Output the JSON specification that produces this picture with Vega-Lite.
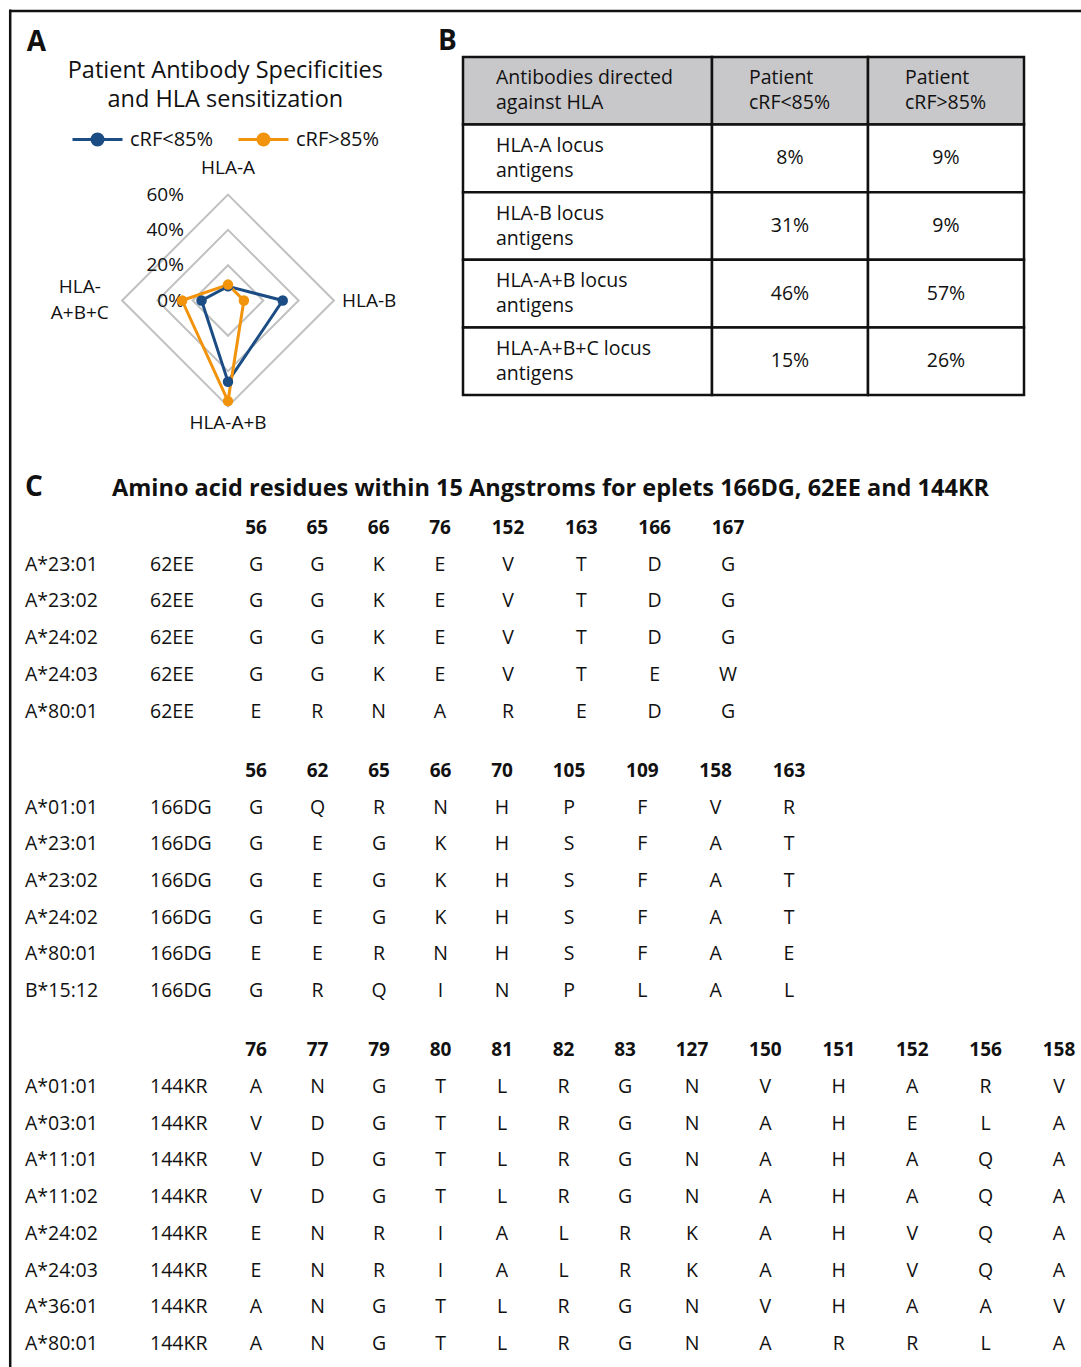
{
"$schema": "https://vega.github.io/schema/vega-lite/v6.json",
"width": 1081, "height": 1367,
"autosize": {"type": "fit", "contains": "padding"},
"padding": 0,
"background": "#ffffff",
"config": {"view": {"stroke": null}, "text": {"font": "Open Sans", "fontSize": 19.5, "fill": "#111111"}},
"resolve": {"scale": {"x": "independent", "y": "independent"}},
"datasets": {
 "radar": [
  {"series": "cRF<85%", "axis": "HLA-A", "value": 0.08},
  {"series": "cRF<85%", "axis": "HLA-B", "value": 0.31},
  {"series": "cRF<85%", "axis": "HLA-A+B", "value": 0.46},
  {"series": "cRF<85%", "axis": "HLA-A+B+C", "value": 0.15},
  {"series": "cRF>85%", "axis": "HLA-A", "value": 0.09},
  {"series": "cRF>85%", "axis": "HLA-B", "value": 0.09},
  {"series": "cRF>85%", "axis": "HLA-A+B", "value": 0.57},
  {"series": "cRF>85%", "axis": "HLA-A+B+C", "value": 0.26}
 ],
 "grid": [
  {"level": 0.2, "axis": "HLA-A"}, {"level": 0.2, "axis": "HLA-B"}, {"level": 0.2, "axis": "HLA-A+B"}, {"level": 0.2, "axis": "HLA-A+B+C"},
  {"level": 0.4, "axis": "HLA-A"}, {"level": 0.4, "axis": "HLA-B"}, {"level": 0.4, "axis": "HLA-A+B"}, {"level": 0.4, "axis": "HLA-A+B+C"},
  {"level": 0.6, "axis": "HLA-A"}, {"level": 0.6, "axis": "HLA-B"}, {"level": 0.6, "axis": "HLA-A+B"}, {"level": 0.6, "axis": "HLA-A+B+C"}
 ],
 "ticks": [{"level": 0}, {"level": 0.2}, {"level": 0.4}, {"level": 0.6}],
 "axes": [
  {"axis": "HLA-A", "label": "HLA-A"},
  {"axis": "HLA-B", "label": "HLA-B"},
  {"axis": "HLA-A+B", "label": "HLA-A+B"},
  {"axis": "HLA-A+B+C", "label": "HLA-\nA+B+C"}
 ],
 "tb": [
  {"row": "header", "col": "label", "txt": "Antibodies directed\nagainst HLA"},
  {"row": "header", "col": "cRF<85%", "txt": "Patient\ncRF<85%"},
  {"row": "header", "col": "cRF>85%", "txt": "Patient\ncRF>85%"},
  {"row": "HLA-A", "col": "label", "txt": "HLA-A locus\nantigens"},
  {"row": "HLA-A", "col": "cRF<85%", "txt": "8%"},
  {"row": "HLA-A", "col": "cRF>85%", "txt": "9%"},
  {"row": "HLA-B", "col": "label", "txt": "HLA-B locus\nantigens"},
  {"row": "HLA-B", "col": "cRF<85%", "txt": "31%"},
  {"row": "HLA-B", "col": "cRF>85%", "txt": "9%"},
  {"row": "HLA-A+B", "col": "label", "txt": "HLA-A+B locus\nantigens"},
  {"row": "HLA-A+B", "col": "cRF<85%", "txt": "46%"},
  {"row": "HLA-A+B", "col": "cRF>85%", "txt": "57%"},
  {"row": "HLA-A+B+C", "col": "label", "txt": "HLA-A+B+C locus\nantigens"},
  {"row": "HLA-A+B+C", "col": "cRF<85%", "txt": "15%"},
  {"row": "HLA-A+B+C", "col": "cRF>85%", "txt": "26%"}
 ],
 "c1": [
  {"allele": "A*23:01", "eplet": "62EE", "56": "G", "65": "G", "66": "K", "76": "E", "152": "V", "163": "T", "166": "D", "167": "G"},
  {"allele": "A*23:02", "eplet": "62EE", "56": "G", "65": "G", "66": "K", "76": "E", "152": "V", "163": "T", "166": "D", "167": "G"},
  {"allele": "A*24:02", "eplet": "62EE", "56": "G", "65": "G", "66": "K", "76": "E", "152": "V", "163": "T", "166": "D", "167": "G"},
  {"allele": "A*24:03", "eplet": "62EE", "56": "G", "65": "G", "66": "K", "76": "E", "152": "V", "163": "T", "166": "E", "167": "W"},
  {"allele": "A*80:01", "eplet": "62EE", "56": "E", "65": "R", "66": "N", "76": "A", "152": "R", "163": "E", "166": "D", "167": "G"}
 ],
 "c2": [
  {"allele": "A*01:01", "eplet": "166DG", "56": "G", "62": "Q", "65": "R", "66": "N", "70": "H", "105": "P", "109": "F", "158": "V", "163": "R"},
  {"allele": "A*23:01", "eplet": "166DG", "56": "G", "62": "E", "65": "G", "66": "K", "70": "H", "105": "S", "109": "F", "158": "A", "163": "T"},
  {"allele": "A*23:02", "eplet": "166DG", "56": "G", "62": "E", "65": "G", "66": "K", "70": "H", "105": "S", "109": "F", "158": "A", "163": "T"},
  {"allele": "A*24:02", "eplet": "166DG", "56": "G", "62": "E", "65": "G", "66": "K", "70": "H", "105": "S", "109": "F", "158": "A", "163": "T"},
  {"allele": "A*80:01", "eplet": "166DG", "56": "E", "62": "E", "65": "R", "66": "N", "70": "H", "105": "S", "109": "F", "158": "A", "163": "E"},
  {"allele": "B*15:12", "eplet": "166DG", "56": "G", "62": "R", "65": "Q", "66": "I", "70": "N", "105": "P", "109": "L", "158": "A", "163": "L"}
 ],
 "c3": [
  {"allele": "A*01:01", "eplet": "144KR", "76": "A", "77": "N", "79": "G", "80": "T", "81": "L", "82": "R", "83": "G", "127": "N", "150": "V", "151": "H", "152": "A", "156": "R", "158": "V"},
  {"allele": "A*03:01", "eplet": "144KR", "76": "V", "77": "D", "79": "G", "80": "T", "81": "L", "82": "R", "83": "G", "127": "N", "150": "A", "151": "H", "152": "E", "156": "L", "158": "A"},
  {"allele": "A*11:01", "eplet": "144KR", "76": "V", "77": "D", "79": "G", "80": "T", "81": "L", "82": "R", "83": "G", "127": "N", "150": "A", "151": "H", "152": "A", "156": "Q", "158": "A"},
  {"allele": "A*11:02", "eplet": "144KR", "76": "V", "77": "D", "79": "G", "80": "T", "81": "L", "82": "R", "83": "G", "127": "N", "150": "A", "151": "H", "152": "A", "156": "Q", "158": "A"},
  {"allele": "A*24:02", "eplet": "144KR", "76": "E", "77": "N", "79": "R", "80": "I", "81": "A", "82": "L", "83": "R", "127": "K", "150": "A", "151": "H", "152": "V", "156": "Q", "158": "A"},
  {"allele": "A*24:03", "eplet": "144KR", "76": "E", "77": "N", "79": "R", "80": "I", "81": "A", "82": "L", "83": "R", "127": "K", "150": "A", "151": "H", "152": "V", "156": "Q", "158": "A"},
  {"allele": "A*36:01", "eplet": "144KR", "76": "A", "77": "N", "79": "G", "80": "T", "81": "L", "82": "R", "83": "G", "127": "N", "150": "V", "151": "H", "152": "A", "156": "A", "158": "V"},
  {"allele": "A*80:01", "eplet": "144KR", "76": "A", "77": "N", "79": "G", "80": "T", "81": "L", "82": "R", "83": "G", "127": "N", "150": "A", "151": "R", "152": "R", "156": "L", "158": "A"}
 ]
},
"layer": [
 {
  "data": {"values": [{"f": 0}]},
  "mark": {"type": "point", "opacity": 0},
  "encoding": {
   "x": {"field": "f", "type": "quantitative", "scale": {"domain": [0, 1], "range": [9, 1081], "nice": false, "zero": false}, "axis": {"orient": "top", "offset": -10.5, "domain": true, "domainColor": "#111111", "domainWidth": 2.5, "ticks": false, "labels": false, "grid": false, "title": null}},
   "y": {"field": "f", "type": "quantitative", "scale": {"domain": [0, 1], "range": [1367, 9], "nice": false, "zero": false}, "axis": {"orient": "left", "offset": -9.7, "domain": true, "domainColor": "#111111", "domainWidth": 2.5, "ticks": false, "labels": false, "grid": false, "title": null}}
  }
 },
 {
  "data": {"name": "grid"},
  "transform": [
   {"calculate": "indexof(['HLA-A','HLA-B','HLA-A+B','HLA-A+B+C'], datum.axis)", "as": "k"},
   {"calculate": "datum.level * sin(datum.k * PI / 2)", "as": "px"},
   {"calculate": "datum.level * cos(datum.k * PI / 2)", "as": "py"}
  ],
  "mark": {"type": "line", "interpolate": "linear-closed", "stroke": "#c0c0c0", "strokeWidth": 2},
  "encoding": {
   "x": {"field": "px", "type": "quantitative", "scale": {"domain": [-1, 1], "range": [51.5, 404.5], "nice": false, "zero": false}, "axis": null},
   "y": {"field": "py", "type": "quantitative", "scale": {"domain": [-1, 1], "range": [477, 124], "nice": false, "zero": false}, "axis": null},
   "detail": {"field": "level", "type": "nominal"},
   "order": {"field": "k", "type": "quantitative"}
  }
 },
 {
  "data": {"name": "ticks"},
  "mark": {"type": "text", "align": "right", "baseline": "middle", "fontSize": 19},
  "encoding": {
   "x": {"datum": -0.25, "type": "quantitative", "scale": {"domain": [-1, 1], "range": [51.5, 404.5], "nice": false, "zero": false}, "axis": null},
   "y": {"field": "level", "type": "quantitative", "scale": {"domain": [-1, 1], "range": [477, 124], "nice": false, "zero": false}, "axis": null},
   "text": {"field": "level", "type": "quantitative", "format": ".0%"}
  }
 },
 {
  "data": {"name": "axes"},
  "transform": [
   {"calculate": "indexof(['HLA-A','HLA-B','HLA-A+B','HLA-A+B+C'], datum.axis)", "as": "k"},
   {"calculate": "[0.75, 0.80, 0.695, 0.84][datum.k]", "as": "lr"},
   {"calculate": "datum.lr * sin(datum.k * PI / 2)", "as": "px"},
   {"calculate": "datum.lr * cos(datum.k * PI / 2) + [0, 0, 0, 0.0737][datum.k]", "as": "py"}
  ],
  "mark": {"type": "text", "align": "center", "baseline": "middle", "lineBreak": "\n", "lineHeight": 26, "fontSize": 19},
  "encoding": {
   "x": {"field": "px", "type": "quantitative", "scale": {"domain": [-1, 1], "range": [51.5, 404.5], "nice": false, "zero": false}, "axis": null},
   "y": {"field": "py", "type": "quantitative", "scale": {"domain": [-1, 1], "range": [477, 124], "nice": false, "zero": false}, "axis": null},
   "text": {"field": "label", "type": "nominal"}
  }
 },
 {
  "data": {"name": "radar"},
  "transform": [
   {"calculate": "indexof(['HLA-A','HLA-B','HLA-A+B','HLA-A+B+C'], datum.axis)", "as": "k"},
   {"calculate": "datum.value * sin(datum.k * PI / 2)", "as": "px"},
   {"calculate": "datum.value * cos(datum.k * PI / 2)", "as": "py"}
  ],
  "mark": {"type": "line", "interpolate": "linear-closed", "strokeWidth": 3},
  "encoding": {
   "x": {"field": "px", "type": "quantitative", "scale": {"domain": [-1, 1], "range": [51.5, 404.5], "nice": false, "zero": false}, "axis": null},
   "y": {"field": "py", "type": "quantitative", "scale": {"domain": [-1, 1], "range": [477, 124], "nice": false, "zero": false}, "axis": null},
   "order": {"field": "k", "type": "quantitative"},
   "color": {"field": "series", "type": "nominal", "scale": {"domain": ["cRF<85%", "cRF>85%"], "range": ["#1b4c84", "#f2930c"]},
    "legend": {"orient": "none", "legendX": 71, "legendY": 113, "direction": "horizontal", "title": null,
     "symbolType": "M-1,0L1,0M0.22,0A0.22,0.22,0,1,1,-0.22,0A0.22,0.22,0,1,1,0.22,0Z",
     "symbolSize": 2500, "symbolStrokeWidth": 3, "labelFontSize": 20, "labelFont": "Open Sans", "labelColor": "#111111", "labelOffset": 6, "columnPadding": 18,
     "encode": {"symbols": {"update": {"fill": {"scale": "color", "field": "value"}, "stroke": {"scale": "color", "field": "value"}, "opacity": {"value": 1}}}}}}
  }
 },
 {
  "data": {"name": "radar"},
  "transform": [
   {"calculate": "indexof(['HLA-A','HLA-B','HLA-A+B','HLA-A+B+C'], datum.axis)", "as": "k"},
   {"calculate": "datum.value * sin(datum.k * PI / 2)", "as": "px"},
   {"calculate": "datum.value * cos(datum.k * PI / 2)", "as": "py"}
  ],
  "mark": {"type": "point", "filled": true, "size": 110, "opacity": 1},
  "encoding": {
   "x": {"field": "px", "type": "quantitative", "scale": {"domain": [-1, 1], "range": [51.5, 404.5], "nice": false, "zero": false}, "axis": null},
   "y": {"field": "py", "type": "quantitative", "scale": {"domain": [-1, 1], "range": [477, 124], "nice": false, "zero": false}, "axis": null},
   "color": {"field": "series", "type": "nominal"}
  }
 },
 {
  "data": {"values": [{"t": "Patient Antibody Specificities\nand HLA sensitization"}]},
  "mark": {"type": "text", "align": "center", "baseline": "middle", "lineBreak": "\n", "lineHeight": 28.5, "dy": -14.5, "fontSize": 23.5},
  "encoding": {
   "x": {"datum": -0.015, "type": "quantitative", "scale": {"domain": [-1, 1], "range": [51.5, 404.5], "nice": false, "zero": false}, "axis": null},
   "y": {"datum": 1.218, "type": "quantitative", "scale": {"domain": [-1, 1], "range": [477, 124], "nice": false, "zero": false}, "axis": null},
   "text": {"field": "t", "type": "nominal"}
  }
 },
 {
  "data": {"values": [{"t": "A"}]},
  "mark": {"type": "text", "align": "center", "baseline": "middle", "fontSize": 28, "fontWeight": "bold"},
  "encoding": {
   "x": {"datum": -1.085, "type": "quantitative", "scale": {"domain": [-1, 1], "range": [51.5, 404.5], "nice": false, "zero": false}, "axis": null},
   "y": {"datum": 1.46, "type": "quantitative", "scale": {"domain": [-1, 1], "range": [477, 124], "nice": false, "zero": false}, "axis": null},
   "text": {"field": "t", "type": "nominal"}
  }
 },
 {
  "data": {"name": "tb"},
  "transform": [{"filter": "datum.col === 'label'"}],
  "mark": {"type": "rect", "stroke": "#111111", "strokeWidth": 2.5},
  "encoding": {
   "x": {"field": "col", "type": "nominal", "scale": {"type": "band", "domain": ["label"], "range": [463, 712], "paddingInner": 0, "paddingOuter": 0}, "axis": null},
   "y": {"field": "row", "type": "nominal", "scale": {"type": "band", "domain": ["header", "HLA-A", "HLA-B", "HLA-A+B", "HLA-A+B+C"], "range": [57, 395], "paddingInner": 0, "paddingOuter": 0}, "axis": null},
   "fill": {"condition": {"test": "datum.row === 'header'", "value": "#c8c7c9"}, "value": "#ffffff"}
  }
 },
 {
  "data": {"name": "tb"},
  "transform": [{"filter": "datum.col !== 'label'"}],
  "mark": {"type": "rect", "stroke": "#111111", "strokeWidth": 2.5},
  "encoding": {
   "x": {"field": "col", "type": "nominal", "scale": {"type": "band", "domain": ["cRF<85%", "cRF>85%"], "range": [712, 1024], "paddingInner": 0, "paddingOuter": 0}, "axis": null},
   "y": {"field": "row", "type": "nominal", "scale": {"type": "band", "domain": ["header", "HLA-A", "HLA-B", "HLA-A+B", "HLA-A+B+C"], "range": [57, 395], "paddingInner": 0, "paddingOuter": 0}, "axis": null},
   "fill": {"condition": {"test": "datum.row === 'header'", "value": "#c8c7c9"}, "value": "#ffffff"}
  }
 },
 {
  "data": {"name": "tb"},
  "transform": [{"filter": "datum.col === 'label'"}],
  "mark": {"type": "text", "align": "left", "baseline": "middle", "dx": 33, "dy": -12.5, "lineBreak": "\n", "lineHeight": 25},
  "encoding": {
   "x": {"field": "col", "type": "nominal", "bandPosition": 0, "scale": {"type": "band", "domain": ["label"], "range": [463, 712], "paddingInner": 0, "paddingOuter": 0}, "axis": null},
   "y": {"field": "row", "type": "nominal", "scale": {"type": "band", "domain": ["header", "HLA-A", "HLA-B", "HLA-A+B", "HLA-A+B+C"], "range": [57, 395], "paddingInner": 0, "paddingOuter": 0}, "axis": null},
   "text": {"field": "txt", "type": "nominal"}
  }
 },
 {
  "data": {"name": "tb"},
  "transform": [{"filter": "datum.col !== 'label' && datum.row === 'header'"}],
  "mark": {"type": "text", "align": "left", "baseline": "middle", "dx": 37, "dy": -12.5, "lineBreak": "\n", "lineHeight": 25},
  "encoding": {
   "x": {"field": "col", "type": "nominal", "bandPosition": 0, "scale": {"type": "band", "domain": ["cRF<85%", "cRF>85%"], "range": [712, 1024], "paddingInner": 0, "paddingOuter": 0}, "axis": null},
   "y": {"field": "row", "type": "nominal", "scale": {"type": "band", "domain": ["header", "HLA-A", "HLA-B", "HLA-A+B", "HLA-A+B+C"], "range": [57, 395], "paddingInner": 0, "paddingOuter": 0}, "axis": null},
   "text": {"field": "txt", "type": "nominal"}
  }
 },
 {
  "data": {"name": "tb"},
  "transform": [{"filter": "datum.col !== 'label' && datum.row !== 'header'"}],
  "mark": {"type": "text", "align": "center", "baseline": "middle"},
  "encoding": {
   "x": {"field": "col", "type": "nominal", "scale": {"type": "band", "domain": ["cRF<85%", "cRF>85%"], "range": [712, 1024], "paddingInner": 0, "paddingOuter": 0}, "axis": null},
   "y": {"field": "row", "type": "nominal", "scale": {"type": "band", "domain": ["header", "HLA-A", "HLA-B", "HLA-A+B", "HLA-A+B+C"], "range": [57, 395], "paddingInner": 0, "paddingOuter": 0}, "axis": null},
   "text": {"field": "txt", "type": "nominal"}
  }
 },
 {
  "data": {"values": [{"t": "B"}]},
  "mark": {"type": "text", "align": "left", "baseline": "middle", "dx": -25, "dy": -15, "fontSize": 28, "fontWeight": "bold"},
  "encoding": {
   "x": {"datum": "label", "type": "nominal", "bandPosition": 0, "scale": {"type": "band", "domain": ["label"], "range": [463, 712], "paddingInner": 0, "paddingOuter": 0}, "axis": null},
   "y": {"datum": "header", "type": "nominal", "bandPosition": 0, "scale": {"type": "band", "domain": ["header", "HLA-A", "HLA-B", "HLA-A+B", "HLA-A+B+C"], "range": [57, 395], "paddingInner": 0, "paddingOuter": 0}, "axis": null},
   "text": {"field": "t", "type": "nominal"}
  }
 },
 {
  "data": {"name": "c1"},
  "transform": [{"fold": ["allele", "eplet"], "as": ["col", "txt"]}],
  "mark": {"type": "text", "align": "left", "baseline": "middle"},
  "encoding": {
   "x": {"field": "col", "type": "nominal", "scale": {"type": "point", "domain": ["allele", "eplet"], "range": [25, 150], "padding": 0}, "axis": null},
   "y": {"field": "allele", "type": "nominal", "scale": {"type": "point", "domain": ["title", "header", "A*23:01", "A*23:02", "A*24:02", "A*24:03", "A*80:01"], "range": [491.3, 711.5], "padding": 0}, "axis": null},
   "text": {"field": "txt", "type": "nominal"}
  }
 },
 {
  "data": {"values": [{"t": "C"}]},
  "mark": {"type": "text", "align": "left", "baseline": "middle", "dy": -3, "fontSize": 28, "fontWeight": "bold"},
  "encoding": {
   "x": {"datum": "allele", "type": "nominal", "scale": {"type": "point", "domain": ["allele", "eplet"], "range": [25, 150], "padding": 0}, "axis": null},
   "y": {"datum": "title", "type": "nominal", "scale": {"type": "point", "domain": ["title", "header", "A*23:01", "A*23:02", "A*24:02", "A*24:03", "A*80:01"], "range": [491.3, 711.5], "padding": 0}, "axis": null},
   "text": {"field": "t", "type": "nominal"}
  }
 },
 {
  "data": {"values": [{"t": "Amino acid residues within 15 Angstroms for eplets 166DG, 62EE and 144KR"}]},
  "mark": {"type": "text", "align": "left", "baseline": "middle", "dx": -38, "dy": -2, "fontSize": 23.5, "fontWeight": "bold"},
  "encoding": {
   "x": {"datum": "eplet", "type": "nominal", "scale": {"type": "point", "domain": ["allele", "eplet"], "range": [25, 150], "padding": 0}, "axis": null},
   "y": {"datum": "title", "type": "nominal", "scale": {"type": "point", "domain": ["title", "header", "A*23:01", "A*23:02", "A*24:02", "A*24:03", "A*80:01"], "range": [491.3, 711.5], "padding": 0}, "axis": null},
   "text": {"field": "t", "type": "nominal"}
  }
 },
 {
  "data": {"name": "c1"},
  "transform": [{"fold": ["56", "65", "66", "76"], "as": ["pos", "aa"]}],
  "mark": {"type": "text", "align": "center", "baseline": "middle"},
  "encoding": {
   "x": {"field": "pos", "type": "nominal", "scale": {"type": "point", "domain": ["56", "65", "66", "76"], "range": [256, 440], "padding": 0}, "axis": null},
   "y": {"field": "allele", "type": "nominal", "scale": {"type": "point", "domain": ["title", "header", "A*23:01", "A*23:02", "A*24:02", "A*24:03", "A*80:01"], "range": [491.3, 711.5], "padding": 0}, "axis": null},
   "text": {"field": "aa", "type": "nominal"}
  }
 },
 {
  "data": {"name": "c1"},
  "transform": [{"fold": ["56", "65", "66", "76"], "as": ["pos", "aa"]}, {"aggregate": [{"op": "count", "as": "n"}], "groupby": ["pos"]}],
  "mark": {"type": "text", "align": "center", "baseline": "middle", "fontSize": 19, "fontWeight": "bold"},
  "encoding": {
   "x": {"field": "pos", "type": "nominal", "scale": {"type": "point", "domain": ["56", "65", "66", "76"], "range": [256, 440], "padding": 0}, "axis": null},
   "y": {"datum": "header", "type": "nominal", "scale": {"type": "point", "domain": ["title", "header", "A*23:01", "A*23:02", "A*24:02", "A*24:03", "A*80:01"], "range": [491.3, 711.5], "padding": 0}, "axis": null},
   "text": {"field": "pos", "type": "nominal"}
  }
 },
 {
  "data": {"name": "c1"},
  "transform": [{"fold": ["152", "163", "166", "167"], "as": ["pos", "aa"]}],
  "mark": {"type": "text", "align": "center", "baseline": "middle"},
  "encoding": {
   "x": {"field": "pos", "type": "nominal", "scale": {"type": "point", "domain": ["152", "163", "166", "167"], "range": [508, 728], "padding": 0}, "axis": null},
   "y": {"field": "allele", "type": "nominal", "scale": {"type": "point", "domain": ["title", "header", "A*23:01", "A*23:02", "A*24:02", "A*24:03", "A*80:01"], "range": [491.3, 711.5], "padding": 0}, "axis": null},
   "text": {"field": "aa", "type": "nominal"}
  }
 },
 {
  "data": {"name": "c1"},
  "transform": [{"fold": ["152", "163", "166", "167"], "as": ["pos", "aa"]}, {"aggregate": [{"op": "count", "as": "n"}], "groupby": ["pos"]}],
  "mark": {"type": "text", "align": "center", "baseline": "middle", "fontSize": 19, "fontWeight": "bold"},
  "encoding": {
   "x": {"field": "pos", "type": "nominal", "scale": {"type": "point", "domain": ["152", "163", "166", "167"], "range": [508, 728], "padding": 0}, "axis": null},
   "y": {"datum": "header", "type": "nominal", "scale": {"type": "point", "domain": ["title", "header", "A*23:01", "A*23:02", "A*24:02", "A*24:03", "A*80:01"], "range": [491.3, 711.5], "padding": 0}, "axis": null},
   "text": {"field": "pos", "type": "nominal"}
  }
 },
 {
  "data": {"name": "c2"},
  "transform": [{"fold": ["allele", "eplet"], "as": ["col", "txt"]}],
  "mark": {"type": "text", "align": "left", "baseline": "middle"},
  "encoding": {
   "x": {"field": "col", "type": "nominal", "scale": {"type": "point", "domain": ["allele", "eplet"], "range": [25, 150], "padding": 0}, "axis": null},
   "y": {"field": "allele", "type": "nominal", "scale": {"type": "point", "domain": ["header", "A*01:01", "A*23:01", "A*23:02", "A*24:02", "A*80:01", "B*15:12"], "range": [771, 991], "padding": 0}, "axis": null},
   "text": {"field": "txt", "type": "nominal"}
  }
 },
 {
  "data": {"name": "c2"},
  "transform": [{"fold": ["56", "62", "65", "66", "70"], "as": ["pos", "aa"]}],
  "mark": {"type": "text", "align": "center", "baseline": "middle"},
  "encoding": {
   "x": {"field": "pos", "type": "nominal", "scale": {"type": "point", "domain": ["56", "62", "65", "66", "70"], "range": [256, 502], "padding": 0}, "axis": null},
   "y": {"field": "allele", "type": "nominal", "scale": {"type": "point", "domain": ["header", "A*01:01", "A*23:01", "A*23:02", "A*24:02", "A*80:01", "B*15:12"], "range": [771, 991], "padding": 0}, "axis": null},
   "text": {"field": "aa", "type": "nominal"}
  }
 },
 {
  "data": {"name": "c2"},
  "transform": [{"fold": ["56", "62", "65", "66", "70"], "as": ["pos", "aa"]}, {"aggregate": [{"op": "count", "as": "n"}], "groupby": ["pos"]}],
  "mark": {"type": "text", "align": "center", "baseline": "middle", "fontSize": 19, "fontWeight": "bold"},
  "encoding": {
   "x": {"field": "pos", "type": "nominal", "scale": {"type": "point", "domain": ["56", "62", "65", "66", "70"], "range": [256, 502], "padding": 0}, "axis": null},
   "y": {"datum": "header", "type": "nominal", "scale": {"type": "point", "domain": ["header", "A*01:01", "A*23:01", "A*23:02", "A*24:02", "A*80:01", "B*15:12"], "range": [771, 991], "padding": 0}, "axis": null},
   "text": {"field": "pos", "type": "nominal"}
  }
 },
 {
  "data": {"name": "c2"},
  "transform": [{"fold": ["105", "109", "158", "163"], "as": ["pos", "aa"]}],
  "mark": {"type": "text", "align": "center", "baseline": "middle"},
  "encoding": {
   "x": {"field": "pos", "type": "nominal", "scale": {"type": "point", "domain": ["105", "109", "158", "163"], "range": [569, 789], "padding": 0}, "axis": null},
   "y": {"field": "allele", "type": "nominal", "scale": {"type": "point", "domain": ["header", "A*01:01", "A*23:01", "A*23:02", "A*24:02", "A*80:01", "B*15:12"], "range": [771, 991], "padding": 0}, "axis": null},
   "text": {"field": "aa", "type": "nominal"}
  }
 },
 {
  "data": {"name": "c2"},
  "transform": [{"fold": ["105", "109", "158", "163"], "as": ["pos", "aa"]}, {"aggregate": [{"op": "count", "as": "n"}], "groupby": ["pos"]}],
  "mark": {"type": "text", "align": "center", "baseline": "middle", "fontSize": 19, "fontWeight": "bold"},
  "encoding": {
   "x": {"field": "pos", "type": "nominal", "scale": {"type": "point", "domain": ["105", "109", "158", "163"], "range": [569, 789], "padding": 0}, "axis": null},
   "y": {"datum": "header", "type": "nominal", "scale": {"type": "point", "domain": ["header", "A*01:01", "A*23:01", "A*23:02", "A*24:02", "A*80:01", "B*15:12"], "range": [771, 991], "padding": 0}, "axis": null},
   "text": {"field": "pos", "type": "nominal"}
  }
 },
 {
  "data": {"name": "c3"},
  "transform": [{"fold": ["allele", "eplet"], "as": ["col", "txt"]}],
  "mark": {"type": "text", "align": "left", "baseline": "middle"},
  "encoding": {
   "x": {"field": "col", "type": "nominal", "scale": {"type": "point", "domain": ["allele", "eplet"], "range": [25, 150], "padding": 0}, "axis": null},
   "y": {"field": "allele", "type": "nominal", "scale": {"type": "point", "domain": ["header", "A*01:01", "A*03:01", "A*11:01", "A*11:02", "A*24:02", "A*24:03", "A*36:01", "A*80:01"], "range": [1050, 1344], "padding": 0}, "axis": null},
   "text": {"field": "txt", "type": "nominal"}
  }
 },
 {
  "data": {"name": "c3"},
  "transform": [{"fold": ["76", "77", "79", "80", "81", "82", "83"], "as": ["pos", "aa"]}],
  "mark": {"type": "text", "align": "center", "baseline": "middle"},
  "encoding": {
   "x": {"field": "pos", "type": "nominal", "scale": {"type": "point", "domain": ["76", "77", "79", "80", "81", "82", "83"], "range": [256, 625], "padding": 0}, "axis": null},
   "y": {"field": "allele", "type": "nominal", "scale": {"type": "point", "domain": ["header", "A*01:01", "A*03:01", "A*11:01", "A*11:02", "A*24:02", "A*24:03", "A*36:01", "A*80:01"], "range": [1050, 1344], "padding": 0}, "axis": null},
   "text": {"field": "aa", "type": "nominal"}
  }
 },
 {
  "data": {"name": "c3"},
  "transform": [{"fold": ["76", "77", "79", "80", "81", "82", "83"], "as": ["pos", "aa"]}, {"aggregate": [{"op": "count", "as": "n"}], "groupby": ["pos"]}],
  "mark": {"type": "text", "align": "center", "baseline": "middle", "fontSize": 19, "fontWeight": "bold"},
  "encoding": {
   "x": {"field": "pos", "type": "nominal", "scale": {"type": "point", "domain": ["76", "77", "79", "80", "81", "82", "83"], "range": [256, 625], "padding": 0}, "axis": null},
   "y": {"datum": "header", "type": "nominal", "scale": {"type": "point", "domain": ["header", "A*01:01", "A*03:01", "A*11:01", "A*11:02", "A*24:02", "A*24:03", "A*36:01", "A*80:01"], "range": [1050, 1344], "padding": 0}, "axis": null},
   "text": {"field": "pos", "type": "nominal"}
  }
 },
 {
  "data": {"name": "c3"},
  "transform": [{"fold": ["127", "150", "151", "152", "156", "158"], "as": ["pos", "aa"]}],
  "mark": {"type": "text", "align": "center", "baseline": "middle"},
  "encoding": {
   "x": {"field": "pos", "type": "nominal", "scale": {"type": "point", "domain": ["127", "150", "151", "152", "156", "158"], "range": [692, 1059], "padding": 0}, "axis": null},
   "y": {"field": "allele", "type": "nominal", "scale": {"type": "point", "domain": ["header", "A*01:01", "A*03:01", "A*11:01", "A*11:02", "A*24:02", "A*24:03", "A*36:01", "A*80:01"], "range": [1050, 1344], "padding": 0}, "axis": null},
   "text": {"field": "aa", "type": "nominal"}
  }
 },
 {
  "data": {"name": "c3"},
  "transform": [{"fold": ["127", "150", "151", "152", "156", "158"], "as": ["pos", "aa"]}, {"aggregate": [{"op": "count", "as": "n"}], "groupby": ["pos"]}],
  "mark": {"type": "text", "align": "center", "baseline": "middle", "fontSize": 19, "fontWeight": "bold"},
  "encoding": {
   "x": {"field": "pos", "type": "nominal", "scale": {"type": "point", "domain": ["127", "150", "151", "152", "156", "158"], "range": [692, 1059], "padding": 0}, "axis": null},
   "y": {"datum": "header", "type": "nominal", "scale": {"type": "point", "domain": ["header", "A*01:01", "A*03:01", "A*11:01", "A*11:02", "A*24:02", "A*24:03", "A*36:01", "A*80:01"], "range": [1050, 1344], "padding": 0}, "axis": null},
   "text": {"field": "pos", "type": "nominal"}
  }
 }
]
}
